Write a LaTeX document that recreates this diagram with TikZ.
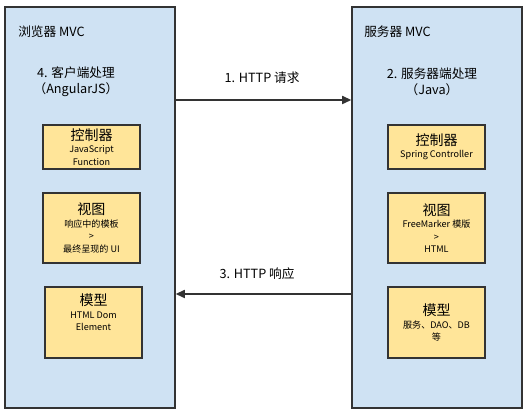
\documentclass[tikz,border=0pt]{standalone}
\usepackage{fontspec}
\setmainfont{Noto Sans CJK SC}
\usetikzlibrary{arrows.meta, positioning}
\definecolor{panelblue}{HTML}{CFE2F3}
\definecolor{boxyellow}{HTML}{FFE599}
\definecolor{linegray}{HTML}{333333}
\newcommand{\boxhead}[1]{{\fontsize{10.5}{12}\selectfont #1}}

\begin{document}
\begin{tikzpicture}[x=0.75pt, y=-0.75pt,
    panel/.style={draw=linegray, fill=panelblue, line width=0.9pt, minimum width=127.5pt, minimum height=300.75pt, inner sep=0pt},
    partbox/.style={draw=linegray, fill=boxyellow, line width=1.2pt, minimum width=72.75pt, align=center, inner sep=1pt, font=\fontsize{6.8}{9.3}\selectfont},
    headtext/.style={font=\fontsize{9.5}{12}\selectfont, inner sep=0pt},
    msgarrow/.style={draw=linegray, line width=1.5pt, -{Triangle[length=7pt, width=6pt]}}]
    \useasboundingbox (0,0) rectangle (529,416);
    % two sides
    \node[panel] (browser) at (90,207.5) {};
    \node[panel] (server) at (437,207.5) {};
    \node[headtext, anchor=west] (browsertitle) at (18,32) {浏览器 MVC};
    \node[headtext, anchor=west] (servertitle) at (364,32) {服务器 MVC};
    \node[headtext, align=center] (clientstep) at (76,82) {4. 客户端处理\\（AngularJS）};
    \node[headtext, align=center] (serverstep) at (432,82) {2. 服务器端处理\\（Java）};
    % browser parts
    \node[partbox, minimum height=33pt] (bctl) at (91.5,147) {\boxhead{控制器}\\JavaScript\\Function};
    \node[partbox, minimum height=52.5pt] (bview) at (91.5,228) {\boxhead{视图}\\响应中的模板\\>\\最终呈现的 UI};
    \node[partbox, minimum height=53.25pt] (bmodel) at (93.5,322.5) {\boxhead{模型}\\HTML Dom\\Element\\[6pt]};
    % server parts
    \node[partbox, minimum height=33pt] (sctl) at (436.5,147) {\boxhead{控制器}\\Spring Controller};
    \node[partbox, minimum height=52.5pt] (sview) at (436.5,228) {\boxhead{视图}\\FreeMarker 模版\\>\\HTML};
    \node[partbox, minimum height=53.25pt] (smodel) at (436.5,322.5) {\boxhead{模型}\\服务、DAO、DB\\等};
    % messages
    \coordinate (reqstart) at (browser.east |- 0,100);
    \coordinate (respstart) at (server.west |- 0,294);
    \draw[msgarrow] (reqstart) -- (server.west |- reqstart);
    \draw[msgarrow] (respstart) -- (browser.east |- respstart);
    \node[headtext] (reqlabel) at (262,78) {1. HTTP 请求};
    \node[headtext] (resplabel) at (257,274) {3. HTTP 响应};
\end{tikzpicture}
\end{document}
